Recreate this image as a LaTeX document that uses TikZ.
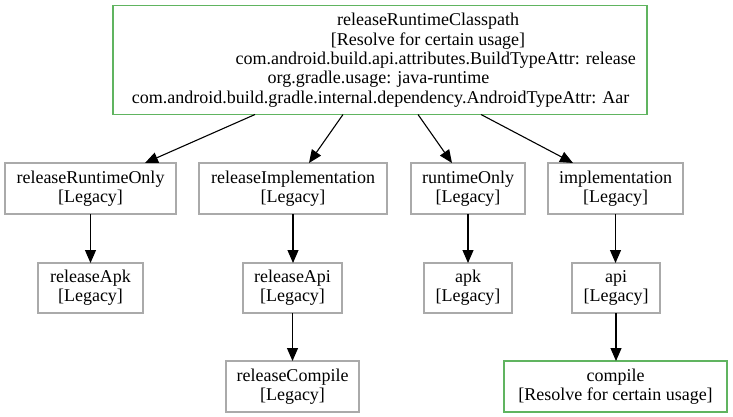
\documentclass[tikz,border=0pt]{standalone}
\usepackage{fontspec}
\setmainfont{Liberation Serif}
\usetikzlibrary{arrows.meta}
\definecolor{boxgray}{RGB}{170,170,170}
\definecolor{boxgreen}{RGB}{96,180,96}
\tikzset{
  every node/.style={font=\fontsize{18}{19.3}\selectfont},
  legacy/.style={draw=boxgray, line width=1.1pt, inner sep=0pt, outer sep=0pt, align=center, minimum height=51pt},
  resolve/.style={draw=boxgreen, line width=1.1pt, inner sep=0pt, outer sep=0pt, align=center, minimum height=51pt},
  txt/.style={anchor=base, inner sep=0pt},
  arr/.style={line width=1.1pt, -{Triangle[length=13pt,width=11pt]}},
}
\begin{document}
\begin{tikzpicture}[x=1pt,y=-1pt]
\useasboundingbox (0,0) rectangle (733,417);
% top node
\node[draw=boxgreen, line width=1.1pt, inner sep=0pt, outer sep=0pt, minimum width=534pt, minimum height=109pt] (top) at (380,60) {};
\node[txt] (t1) at (428,26) {releaseRuntimeClasspath};
\node[txt] (t2) at (428,45.3) {[Resolve for certain usage]};
\node[txt, anchor=base east] (t3) at (636,64.6) {com.android.build.api.attributes.BuildTypeAttr: release};
\node[txt] (t4) at (378.5,83.9) {org.gradle.usage: java-runtime};
\node[txt] (t5) at (380.5,103.2) {com.android.build.gradle.internal.dependency.AndroidTypeAttr: Aar};
% row 2
\node[legacy, minimum width=171pt] (ro) at (90.5,188.5) {releaseRuntimeOnly\\{[Legacy]}};
\node[legacy, minimum width=188pt] (ri) at (293,188.5) {releaseImplementation\\{[Legacy]}};
\node[legacy, minimum width=114pt] (rto) at (468,188.5) {runtimeOnly\\{[Legacy]}};
\node[legacy, minimum width=135pt] (impl) at (615.5,188.5) {implementation\\{[Legacy]}};
% row 3
\node[legacy, minimum width=105pt, minimum height=50pt] (rapk) at (90.5,288) {releaseApk\\{[Legacy]}};
\node[legacy, minimum width=99pt, minimum height=50pt] (rapi) at (292.5,288) {releaseApi\\{[Legacy]}};
\node[legacy, minimum width=88pt, minimum height=50pt] (apk) at (468,288) {apk\\{[Legacy]}};
\node[legacy, minimum width=88pt, minimum height=50pt] (api) at (616,288) {api\\{[Legacy]}};
% row 4
\node[legacy, minimum width=133pt] (rcomp) at (292.5,386.5) {releaseCompile\\{[Legacy]}};
\node[resolve, minimum width=223pt] (comp) at (615.5,386.5) {compile\\{[Resolve for certain usage]}};
% edges
\draw[arr] ([xshift=142pt]top.south west) -- ([xshift=140pt]ro.north west);
\draw[arr] ([xshift=230pt]top.south west) -- ([xshift=110pt]ri.north west);
\draw[arr] ([xshift=305pt]top.south west) -- ([xshift=41pt]rto.north west);
\draw[arr] ([xshift=368pt]top.south west) -- ([xshift=25pt]impl.north west);
\draw[arr] (ro.south) -- (rapk.north);
\draw[arr] (ri.south) -- (ri.south |- rapi.north);
\draw[arr] (rto.south) -- (apk.north);
\draw[arr] (impl.south) -- (impl.south |- api.north);
\draw[arr] (rapi.south) -- (rcomp.north);
\draw[arr] (api.south) -- (api.south |- comp.north);
\end{tikzpicture}
\end{document}
